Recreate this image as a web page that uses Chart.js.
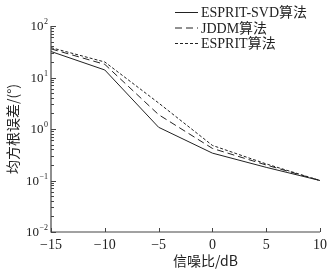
<!DOCTYPE html>
<html>
<head>
<meta charset="utf-8">
<script src="https://cdn.jsdelivr.net/npm/chart.js@4.4.0/dist/chart.umd.min.js"></script>
<style>
html, body { margin: 0; padding: 0; background: #fff; }
#wrap { width: 333px; height: 271px; }
</style>
</head>
<body>
<div id="wrap"><canvas id="rmseChart" width="333" height="271"></canvas></div>
<script>
// values (RMSE in degrees vs SNR in dB)
const snr = [-15, -10, -5, 0, 5, 10];
const esvdRmse = [32, 14, 1.08, 0.34, 0.18, 0.1];
const jddmRmse = [36, 18, 1.9, 0.42, 0.2, 0.1];
const espritRmse = [38, 20, 3.2, 0.48, 0.21, 0.1];
const seriesNames = ['ESPRIT-SVD算法', 'JDDM算法', 'ESPRIT算法'];
const xTicks = [-15, -10, -5, 0, 5, 10];
const yExponents = [-2, -1, 0, 1, 2];
const xTitle = '信噪比/dB';
const yTitle = '均方根误差/(°)';

const ink = '#222';
const serif = "'Liberation Serif', 'Noto Sans CJK SC', serif";

function toPoints(vals) {
    return snr.map(function(x, i) { return {x: x, y: vals[i]}; });
}
function minusFix(s) {
    return String(s).replace('-', '\u2212');
}

// draws axes, inward ticks, labels, titles and legend
const frame = {
    id: 'frame',
    afterDraw: function(chart) {
        const ctx = chart.ctx;
        const area = chart.chartArea;
        const xs = chart.scales.x;
        const ys = chart.scales.y;
        ctx.save();
        ctx.strokeStyle = '#444';
        ctx.lineWidth = 1.2;
        ctx.beginPath();
        ctx.moveTo(area.left, area.top);
        ctx.lineTo(area.left, area.bottom);
        ctx.lineTo(area.right, area.bottom);
        ctx.stroke();

        // y ticks (major + minor, pointing inside)
        ctx.lineWidth = 1;
        yExponents.forEach(function(e) {
            const base = Math.pow(10, e);
            let py = Math.round(ys.getPixelForValue(base)) + 0.5;
            ctx.beginPath();
            ctx.moveTo(area.left, py);
            ctx.lineTo(area.left + 5, py);
            ctx.stroke();
            if (e < yExponents[yExponents.length - 1]) {
                for (let k = 2; k <= 9; k++) {
                    py = Math.round(ys.getPixelForValue(k * base)) + 0.5;
                    ctx.beginPath();
                    ctx.moveTo(area.left, py);
                    ctx.lineTo(area.left + 3, py);
                    ctx.stroke();
                }
            }
        });
        // x ticks
        xTicks.forEach(function(v) {
            const px = Math.round(xs.getPixelForValue(v)) + 0.5;
            ctx.beginPath();
            ctx.moveTo(px, area.bottom);
            ctx.lineTo(px, area.bottom - 4);
            ctx.stroke();
        });

        ctx.fillStyle = ink;
        // x tick labels
        ctx.font = '14px ' + serif;
        ctx.textAlign = 'center';
        ctx.textBaseline = 'middle';
        xTicks.forEach(function(v) {
            ctx.fillText(minusFix(v), xs.getPixelForValue(v), area.bottom + 13.5);
        });
        // y tick labels 10^e
        yExponents.forEach(function(e) {
            const py = ys.getPixelForValue(Math.pow(10, e));
            const expText = minusFix(e);
            ctx.font = '8px ' + serif;
            const ew = ctx.measureText(expText).width;
            const right = area.left - 3;
            ctx.textAlign = 'left';
            ctx.fillText(expText, right - ew, py - 4);
            ctx.font = '13px ' + serif;
            ctx.textAlign = 'right';
            ctx.fillText('10', right - ew - 0.5, py + 1);
        });
        // axis titles
        ctx.font = "14px 'Noto Sans CJK SC', 'Liberation Serif', sans-serif";
        ctx.textAlign = 'center';
        ctx.fillText(xTitle, (area.left + area.right) / 2 + 20, area.bottom + 29);
        ctx.save();
        ctx.translate(13, (area.top + area.bottom) / 2);
        ctx.rotate(-Math.PI / 2);
        ctx.fillText(yTitle, 0, 0);
        ctx.restore();

        // legend
        ctx.font = '14px ' + serif;
        ctx.textAlign = 'left';
        chart.data.datasets.forEach(function(ds, i) {
            const ly = 12.5 + i * 15.5;
            ctx.save();
            ctx.strokeStyle = ds.borderColor;
            ctx.lineWidth = ds.borderWidth;
            ctx.setLineDash(ds.borderDash || []);
            ctx.beginPath();
            ctx.moveTo(175, ly);
            ctx.lineTo(198, ly);
            ctx.stroke();
            ctx.restore();
            ctx.fillText(ds.label, 201, ly + 1);
        });
        ctx.restore();
    }
};

const ctxL = document.getElementById('rmseChart').getContext('2d');
new Chart(ctxL, {
    type: 'line',
    data: {
        datasets: [{
            label: seriesNames[0],
            data: toPoints(esvdRmse),
            borderColor: ink,
            borderWidth: 1,
            borderDash: [],
            pointRadius: 0,
            tension: 0
        }, {
            label: seriesNames[1],
            data: toPoints(jddmRmse),
            borderColor: ink,
            borderWidth: 1,
            borderDash: [7, 4],
            pointRadius: 0,
            tension: 0
        }, {
            label: seriesNames[2],
            data: toPoints(espritRmse),
            borderColor: ink,
            borderWidth: 1,
            borderDash: [3, 2],
            pointRadius: 0,
            tension: 0
        }]
    },
    options: {
        responsive: false,
        animation: false,
        layout: { padding: { left: 51, right: 13, top: 26, bottom: 39 } },
        plugins: { legend: { display: false }, tooltip: { enabled: false } },
        scales: {
            x: { type: 'linear', min: -15, max: 10, display: false },
            y: { type: 'logarithmic', min: 0.01, max: 100, display: false }
        }
    },
    plugins: [frame]
});
</script>
</body>
</html>
